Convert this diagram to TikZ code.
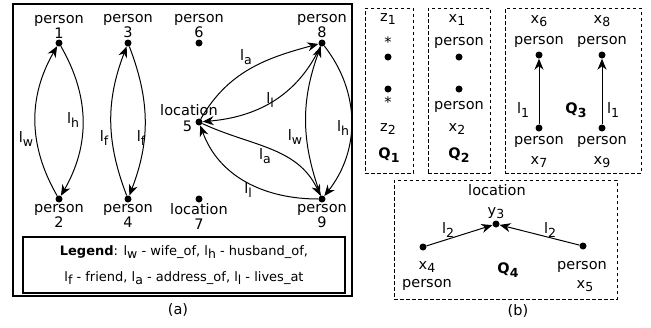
\documentclass[tikz,border=0pt]{standalone}
\usepackage{fontspec}
\setmainfont{DejaVu Sans}
\usetikzlibrary{arrows.meta,positioning}
\newcommand{\lsub}[2]{#1\raisebox{-0.45ex}{\fontsize{12.5}{12.5}\selectfont #2}}
\tikzset{
  vertex/.style={circle, fill=black, inner sep=0pt, minimum size=7pt},
  vtext/.style={align=center, inner sep=0pt, font=\fontsize{14.5}{15}\selectfont},
  elabel/.style={inner sep=0pt, font=\fontsize{14.5}{15}\selectfont},
  arrow/.style={-{Stealth[length=11pt, width=9pt, inset=3.5pt]}, line width=1pt},
  panel/.style={draw, line width=1.4pt, inner sep=0pt},
  querybox/.style={draw, line width=0.8pt, dash pattern=on 3.5pt off 2.5pt, inner sep=0pt}
}

\begin{document}
\begin{tikzpicture}[x=1pt, y=-1pt, node distance=1pt]
  \useasboundingbox (0,0) rectangle (651,327);

  \node[panel, minimum width=339pt, minimum height=292pt] (panelA) at (182.5,150) {};
  \node[vertex] (v1) at (59,43) {};
  \node[vertex] (v3) at (128,43) {};
  \node[vertex] (v6) at (199,43) {};
  \node[vertex] (v8) at (322,43) {};
  \node[vertex] (v5) at (199,122) {};
  \node[vertex] (v2) at (59,199) {};
  \node[vertex] (v4) at (128,199) {};
  \node[vertex] (v7) at (199,199) {};
  \node[vertex] (v9) at (322,199) {};

  \node[vtext, above=of v1] (t1) {person\\1};
  \node[vtext, above=of v3] (t3) {person\\3};
  \node[vtext, above=of v6] (t6) {person\\6};
  \node[vtext, above=of v8] (t8) {person\\8};
  \node[vtext, below=of v2] (t2) {person\\2};
  \node[vtext, below=of v4] (t4) {person\\4};
  \node[vtext, below=of v7] (t7) {location\\7};
  \node[vtext, below=of v9] (t9) {person\\9};
  \node[vtext, left=3pt of v5, yshift=-4pt] (t5) {5};
  \node[vtext, above=2pt of v5, xshift=-10pt] (t5b) {location};

  \draw[arrow] (v2) to[bend left=30] (v1);
  \draw[arrow] (v1) to[bend left=30] (v2);
  \draw[arrow] (v4) to[bend left=21] (v3);
  \draw[arrow] (v3) to[bend left=21] (v4);
  \draw[arrow] (v5) to[out=60, in=195] (v8);
  \draw[arrow] (v8) to[out=245, in=5] (v5);
  \draw[arrow] (v5) to[out=-25, in=115] (v9);
  \draw[arrow] (v9) to[out=180, in=-70] (v5);
  \draw[arrow] (v9) to[bend left=20] (v8);
  \draw[arrow] (v8) to[bend left=38] (v9);

  \node[elabel] (lw1) at (26,139) {\lsub{l}{w}};
  \node[elabel] (lh1) at (73,120) {\lsub{l}{h}};
  \node[elabel] (lf1) at (104,138) {\lsub{l}{f}};
  \node[elabel] (lf2) at (141,138) {\lsub{l}{f}};
  \node[elabel] (la1) at (246,57) {\lsub{l}{a}};
  \node[elabel] (ll1) at (270,100) {\lsub{l}{l}};
  \node[elabel] (lw2) at (295,137) {\lsub{l}{w}};
  \node[elabel] (lh2) at (343,128) {\lsub{l}{h}};
  \node[elabel] (la2) at (265,156) {\lsub{l}{a}};
  \node[elabel] (ll2) at (248,190) {\lsub{l}{l}};

  \node[panel, minimum width=322pt, minimum height=56pt, align=center, font=\fontsize{13}{26}\selectfont] (legend) at (184,265)
    {\textbf{Legend}: \lsub{l}{w} - wife\_of, \lsub{l}{h} - husband\_of,\\\lsub{l}{f} - friend, \lsub{l}{a} - address\_of, \lsub{l}{l} - lives\_at};
  \node[vtext] (capA) at (178,310) {(a)};

  % queries
  \node[querybox, minimum width=48pt, minimum height=165pt] (q1box) at (389,90.5) {};
  \node[querybox, minimum width=62pt, minimum height=165pt] (q2box) at (459,90.5) {};
  \node[querybox, minimum width=136pt, minimum height=165pt] (q3box) at (573,90.5) {};
  \node[querybox, minimum width=223pt, minimum height=119pt] (q4box) at (505.5,239.5) {};

  \node[vertex] (z1) at (388,57) {};
  \node[vertex] (z2) at (388,89) {};
  \node[vtext] (z1t) at (388,19) {\lsub{z}{1}};
  \node[vtext] (z1s) at (388,42) {*};
  \node[vtext] (z2s) at (388,102) {*};
  \node[vtext] (z2t) at (388,129) {\lsub{z}{2}};
  \node[vtext] (q1) at (389,155) {\textbf{\lsub{Q}{1}}};

  \node[vertex] (x1) at (459,57) {};
  \node[vertex] (x2) at (459,89) {};
  \node[vtext] (x1t) at (457,20) {\lsub{x}{1}};
  \node[vtext] (x1p) at (459,43) {person};
  \node[vtext] (x2p) at (459,107) {person};
  \node[vtext] (x2t) at (457,129) {\lsub{x}{2}};
  \node[vtext] (q2) at (459,155) {\textbf{\lsub{Q}{2}}};

  \node[vertex] (x6) at (539,55) {};
  \node[vertex] (x7) at (539,128) {};
  \node[vertex] (x8) at (602,55) {};
  \node[vertex] (x9) at (602,128) {};
  \node[vtext] (x6t) at (539,21) {\lsub{x}{6}};
  \node[vtext] (x6p) at (539,42) {person};
  \node[vtext] (x7p) at (539,142) {person};
  \node[vtext] (x7t) at (539,162) {\lsub{x}{7}};
  \node[vtext] (x8t) at (602,21) {\lsub{x}{8}};
  \node[vtext] (x8p) at (602,42) {person};
  \node[vtext] (x9p) at (602,142) {person};
  \node[vtext] (x9t) at (602,162) {\lsub{x}{9}};
  \draw[arrow] (x7) -- (x6);
  \draw[arrow] (x9) -- (x8);
  \node[elabel] (l1a) at (523,110) {\lsub{l}{1}};
  \node[elabel] (l1b) at (613,110) {\lsub{l}{1}};
  \node[vtext] (q3) at (576,110) {\textbf{\lsub{Q}{3}}};

  \node[vertex] (y3) at (496,224) {};
  \node[vertex] (x4) at (423,247) {};
  \node[vertex] (x5) at (583,246) {};
  \node[vtext] (y3p) at (497,190) {location};
  \node[vtext] (y3t) at (496,213) {\lsub{y}{3}};
  \node[vtext] (x4t) at (427,267) {\lsub{x}{4}};
  \node[vtext] (x4p) at (427,285) {person};
  \node[vtext] (x5p) at (582,267) {person};
  \node[vtext] (x5t) at (585,286) {\lsub{x}{5}};
  \draw[arrow] (x4) -- (y3);
  \draw[arrow] (x5) -- (y3);
  \node[elabel] (l2a) at (448,230) {\lsub{l}{2}};
  \node[elabel] (l2b) at (550,230) {\lsub{l}{2}};
  \node[vtext] (q4) at (508,270) {\textbf{\lsub{Q}{4}}};
  \node[vtext] (capB) at (518,311) {(b)};
\end{tikzpicture}
\end{document}
